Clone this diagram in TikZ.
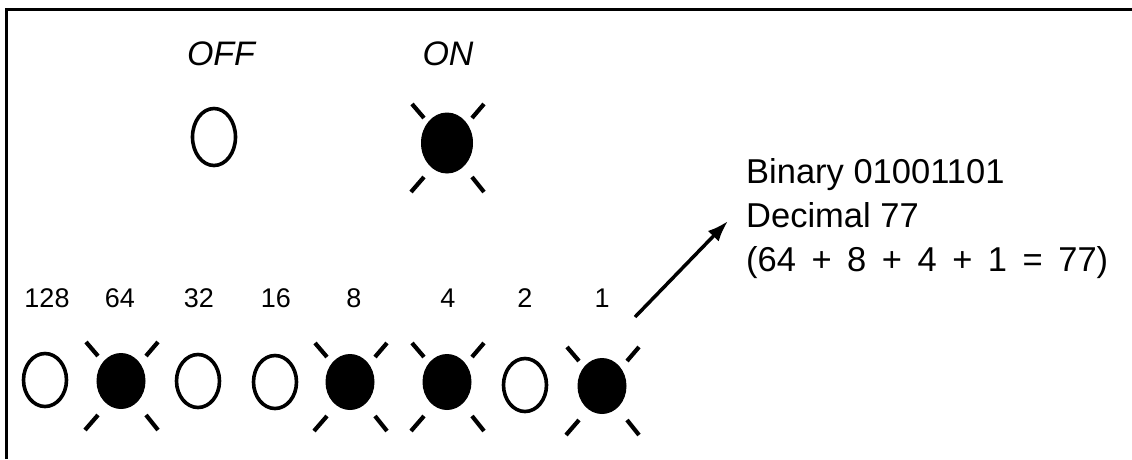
\documentclass[tikz,border=0pt]{standalone}
\usepackage{fontspec}
\setmainfont{Liberation Sans}
\usetikzlibrary{shapes.geometric,arrows.meta}
\begin{document}
\begin{tikzpicture}[x=1pt,y=-1pt,
  offbulb/.style={ellipse,draw,line width=3.6pt,inner sep=0pt,minimum width=43pt,minimum height=53pt},
  onbulb/.style={ellipse,draw,fill,line width=1pt,inner sep=0pt,minimum width=48pt,minimum height=55pt},
  ray/.style={line width=4.2pt},
  lbl/.style={font=\fontsize{27}{30}\selectfont,anchor=base,inner sep=0pt},
  head/.style={font=\fontsize{34}{40}\selectfont\itshape,anchor=base,inner sep=0pt},
  info/.style={font=\fontsize{34.5}{40}\selectfont,anchor=base west,inner sep=0pt},
  pointer/.style={line width=3.5pt,-{Latex[length=21pt,width=15pt]}}]
\useasboundingbox (0,0) rectangle (1132,459);
\draw[line width=3pt] (6.5,459) -- (6.5,9.5) -- (1132,9.5);
% legend
\node[head] (off) at (221,65) {OFF};
\node[head] (onl) at (448,65) {ON};
\node[offbulb,minimum width=43pt,minimum height=57pt] (offb) at (214,137) {};
\node[onbulb,minimum width=51pt,minimum height=60pt] (onb) at (447,143) {};
% bit weights
\foreach \nm/\x in {128/47,64/120,32/199,16/276,8/354,4/448,2/525,1/602}
  \node[lbl] (w\nm) at (\x,307) {\nm};
% bulbs
\node[offbulb] (b128) at (45,380) {};
\node[onbulb]  (b64)  at (121,381) {};
\node[offbulb] (b32)  at (198,381) {};
\node[offbulb] (b16)  at (275,382) {};
\node[onbulb]  (b8)   at (350,382) {};
\node[onbulb]  (b4)   at (447,382) {};
\node[offbulb] (b2)   at (525,385) {};
\node[onbulb]  (b1)   at (602,386) {};
% rays
\foreach \n in {onb,b64,b8,b4,b1} {
  \draw[ray] ([shift={(-23,-25)}]\n.center) -- ([shift={(-35,-39)}]\n.center);
  \draw[ray] ([shift={(25,-25)}]\n.center) -- ([shift={(37,-39)}]\n.center);
  \draw[ray] ([shift={(-23,34)}]\n.center) -- ([shift={(-36,49)}]\n.center);
  \draw[ray] ([shift={(25,34)}]\n.center) -- ([shift={(37,49)}]\n.center);
}
% result text
\node[info] (t1) at (746,183) {Binary 01001101};
\node[info] (t2) at (746,227) {Decimal 77};
\node[info] (t3) at (746,271) {(64\hspace{0.45em}+\hspace{0.45em}8\hspace{0.45em}+\hspace{0.45em}4\hspace{0.45em}+\hspace{0.45em}1\hspace{0.45em}=\hspace{0.45em}77)};
\coordinate (as) at (635,317);
\coordinate (ae) at (728,221);
\draw[pointer] (as) -- (ae);
\end{tikzpicture}
\end{document}
